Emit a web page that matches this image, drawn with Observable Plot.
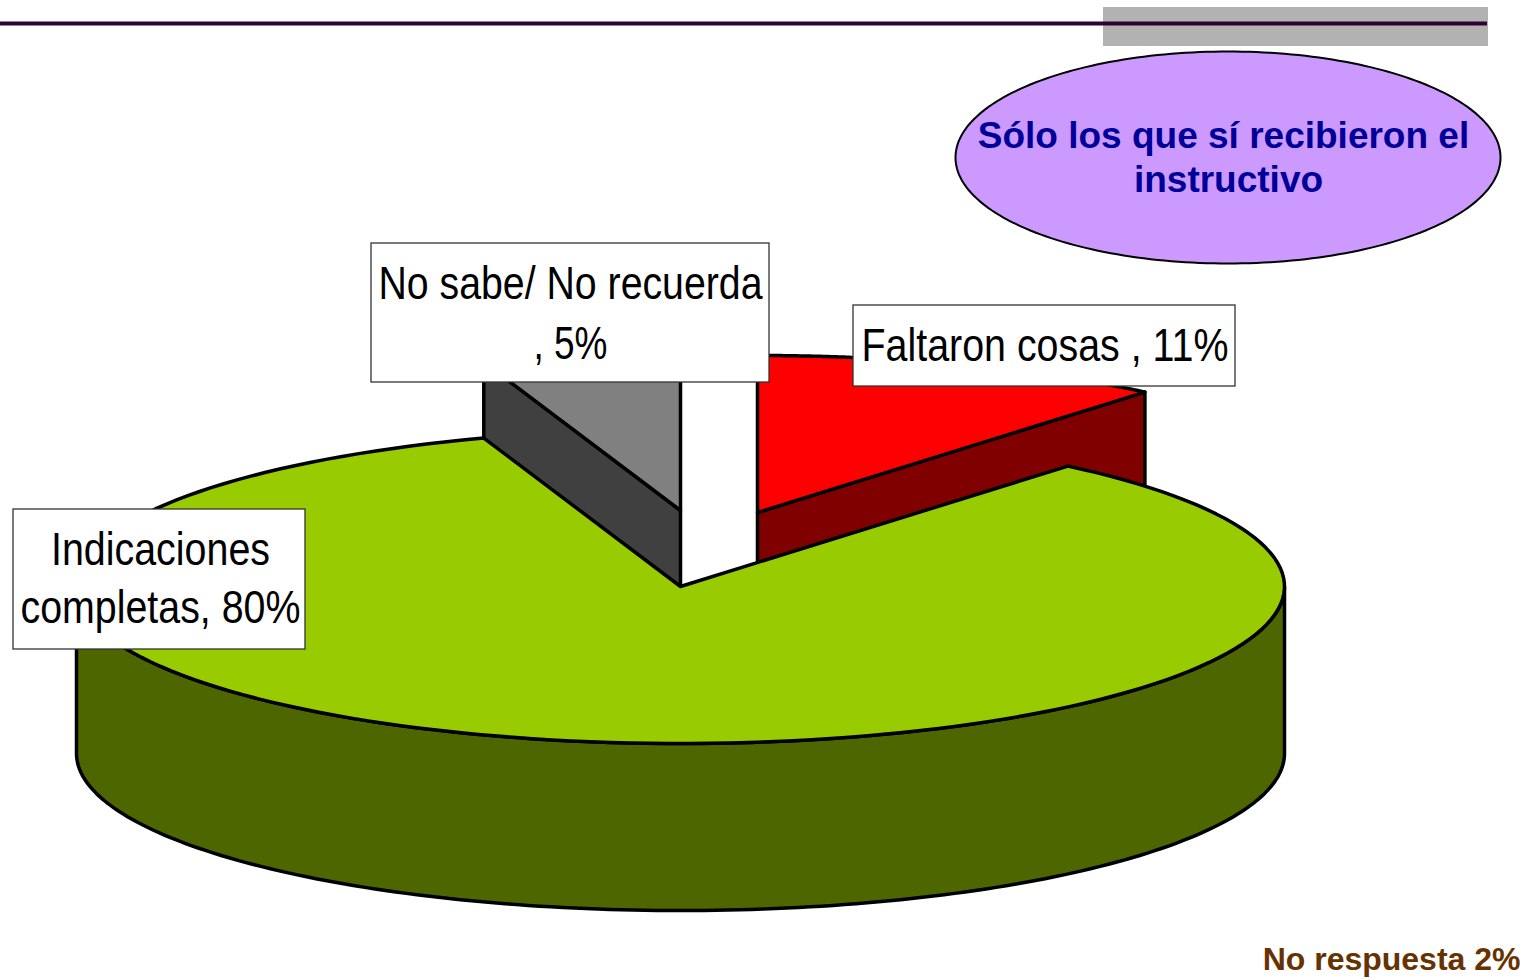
<!DOCTYPE html>
<html>
<head>
<meta charset="utf-8">
<script src="https://cdn.jsdelivr.net/npm/d3@7"></script>
<script src="https://cdn.jsdelivr.net/npm/@observablehq/plot@0.6"></script>
<style>html,body{margin:0;padding:0;background:#fff}svg{display:block}</style>
</head>
<body>
<div id="chart"></div>
<script>
// Data
const categories = ["Faltaron cosas", "Indicaciones completas", "No sabe/ No recuerda"];
const values = [10.6, 80, 5.05];
const topColors = ["#ff0000", "#99cc00", "#808080"];
const sideColors = ["#800000", "#4d6600", "#404040"];
const labelLines = [
  ["Faltaron cosas , 11%"],
  ["Indicaciones", "completas, 80%"],
  ["No sabe/ No recuerda", ", 5%"]
];
const calloutLines = ["Sólo los que sí recibieron el", "instructivo"];
const footnote = "No respuesta 2%";

// Layout
const W = 1537, H = 980;
const cx = 680, cy = 586, rx = 604, ry = 157, depth = 167;
const shifts = [[77, -74], [0, 0], [0, -76]];
const labelBoxes = [
  {x1: 853, x2: 1235, y1: 305, y2: 386, tx: 1044.5, ty: [346], w: [367]},
  {x1: 13, x2: 305, y1: 509, y2: 649, tx: 160, ty: [550, 608], w: [219, 280]},
  {x1: 371, x2: 769, y1: 243, y2: 382, tx: 570, ty: [284, 344], w: [384, 74]}
];

const sans = "'Liberation Sans',Arial,sans-serif";

const arcs = d3.pie().sort(null)(values);
const pt = (a, s, dz = 0) => ({x: cx + s[0] + rx * Math.sin(a), y: cy + s[1] + dz - ry * Math.cos(a)});
const arcPts = (a0, a1, s, dz = 0) => d3.range(0, 161).map(i => pt(a0 + (a1 - a0) * i / 160, s, dz));
const apex = (s, dz = 0) => ({x: cx + s[0], y: cy + s[1] + dz});

const poly = (pts, fill, strokeWidth = 3.5) =>
  Plot.line(pts, {x: "x", y: "y", fill, stroke: "#000", strokeWidth, curve: "linear-closed", strokeLinejoin: "round"});

function sliceMarks(i) {
  const {startAngle: a0, endAngle: a1} = arcs[i];
  const s = shifts[i];
  const marks = [];
  for (const a of [a0, a1]) {
    const facing = i === 0 ? a === a1 : i === 2 ? a === a0 : false;
    if (facing) marks.push(poly([apex(s), pt(a, s), pt(a, s, depth), apex(s, depth)], sideColors[i]));
  }
  const f0 = Math.max(a0, Math.PI / 2), f1 = Math.min(a1, 3 * Math.PI / 2);
  if (f1 > f0) marks.push(poly([...arcPts(f0, f1, s), ...arcPts(f1, f0, s, depth)], sideColors[i]));
  marks.push(poly([apex(s), ...arcPts(a0, a1, s)], topColors[i]));
  return marks;
}

const labelRows = labelLines.flatMap((lines, i) =>
  lines.map((text, j) => ({text, x: labelBoxes[i].tx, y: labelBoxes[i].ty[j], w: labelBoxes[i].w[j]})));
const widthByText = new Map(labelRows.map(d => [d.text, d.w]));

const ell = d3.range(0, 240).map(i => ({
  x: 1227.5 + 272.5 * Math.cos(i / 240 * 2 * Math.PI),
  y: 157 + 106 * Math.sin(i / 240 * 2 * Math.PI)
}));

const chart = Plot.plot({
  width: W, height: H,
  margin: 0,
  style: {background: "#fff"},
  x: {domain: [0, W], range: [0, W], axis: null},
  y: {domain: [0, H], range: [0, H], axis: null},
  marks: [
    Plot.rect([{x1: 1103, x2: 1488, y1: 7, y2: 46}], {x1: "x1", x2: "x2", y1: "y1", y2: "y2", fill: "#b2b2b2", inset: 0}),
    Plot.ruleY([23], {x1: 0, x2: 1487, stroke: "#330033", strokeWidth: 4}),
    poly(ell, "#cc99ff", 2),
    Plot.text(calloutLines, {
      x: [1223, 1228], y: [136, 180], text: d => d,
      fontFamily: sans, fontWeight: "bold", fontSize: 37, fill: "#000099", textAnchor: "middle"
    }),
    ...sliceMarks(0),
    ...sliceMarks(2),
    ...sliceMarks(1),
    Plot.rect(labelBoxes, {x1: "x1", x2: "x2", y1: "y1", y2: "y2", fill: "#fff", stroke: "#333", strokeWidth: 1.3, inset: 0}),
    Plot.text(labelRows, {x: "x", y: "y", text: "text", fontFamily: sans, fontSize: 46, fill: "#000", textAnchor: "middle"}),
    Plot.text([footnote], {x: [1520], y: [959], text: d => d, fontFamily: sans, fontWeight: "bold", fontSize: 32, fill: "#663300", textAnchor: "end"})
  ]
});
// The reference's labels use a condensed face: squeeze each line to its measured width.
chart.querySelectorAll("text").forEach(t => {
  const w = widthByText.get(t.textContent);
  if (w) { t.setAttribute("textLength", w); t.setAttribute("lengthAdjust", "spacingAndGlyphs"); }
});
document.getElementById("chart").appendChild(chart);
</script>
</body>
</html>
